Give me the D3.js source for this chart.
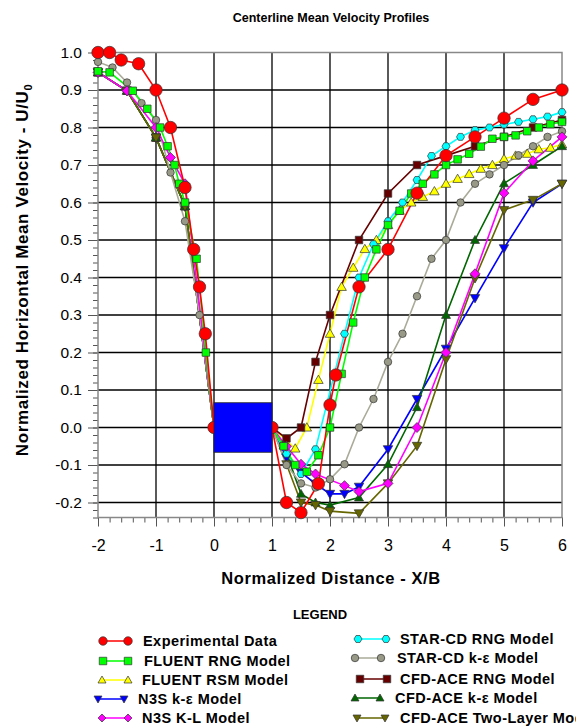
<!DOCTYPE html>
<html>
<head>
<meta charset="utf-8">
<script src="https://cdn.jsdelivr.net/npm/d3@7"></script>
<style>
  body { margin: 0; background: #fff; }
  svg { display: block; font-family: "Liberation Sans", Arial, sans-serif; }
</style>
</head>
<body>
<svg id="chart" width="576" height="727"></svg>
<script>
// data, [x/B, U/U0]
const experimental = [[-2,1.0],[-1.8,1.0],[-1.6,0.98],[-1.3,0.97],[-1,0.9],[-0.75,0.8],[-0.5,0.64],[-0.35,0.475],[-0.25,0.375],[-0.15,0.25],[0,0],[1,0],[1.25,-0.2],[1.5,-0.227],[1.8,-0.15],[2,0.06],[2.1,0.14],[2.5,0.375],[3,0.475],[3.5,0.625],[4,0.725],[4.5,0.775],[5,0.825],[5.5,0.875],[6,0.9]];
const fluentRng = [[-2,0.95],[-1.8,0.947],[-1.4,0.898],[-1.15,0.85],[-0.93,0.8],[-0.8,0.75],[-0.68,0.7],[-0.6,0.65],[-0.5,0.6],[-0.3,0.45],[-0.14,0.2],[0,0],[1,0],[1.2,-0.05],[1.4,-0.1],[1.6,-0.118],[1.8,-0.074],[2,0],[2.2,0.143],[2.4,0.28],[2.6,0.4],[2.8,0.475],[3,0.54],[3.2,0.578],[3.4,0.624],[3.6,0.65],[3.8,0.675],[4,0.7],[4.2,0.715],[4.4,0.73],[4.6,0.749],[4.8,0.77],[5,0.775],[5.2,0.779],[5.4,0.79],[5.6,0.8],[5.8,0.809],[6,0.815]];
const fluentRsm = [[-2,0.947],[-1.5,0.898],[-1,0.773],[-0.5,0.59],[0,0],[1,0],[1.4,-0.056],[1.6,0],[1.8,0.127],[2,0.25],[2.2,0.375],[2.4,0.426],[2.6,0.476],[2.8,0.5],[3,0.54],[3.2,0.578],[3.4,0.6],[3.6,0.615],[3.8,0.63],[4,0.65],[4.2,0.663],[4.4,0.676],[4.6,0.69],[4.8,0.7],[5,0.716],[5.2,0.725],[5.4,0.73],[5.6,0.742],[5.8,0.746],[6,0.755]];
const n3sKe = [[-2,0.947],[-1.5,0.898],[-1,0.773],[-0.5,0.59],[0,0],[1,0],[1.25,-0.08],[1.5,-0.12],[1.75,-0.15],[2,-0.177],[2.25,-0.177],[2.5,-0.158],[3,-0.058],[3.5,0.076],[4,0.21],[4.5,0.345],[5,0.478],[5.5,0.6],[6,0.65]];
const n3sKl = [[-2,0.947],[-1.5,0.898],[-1,0.8],[-0.75,0.72],[-0.5,0.65],[0,0],[1,0],[1.25,-0.05],[1.5,-0.098],[1.75,-0.124],[2.25,-0.155],[2.5,-0.171],[3,-0.149],[3.5,0],[4,0.2],[4.5,0.41],[5,0.625],[5.5,0.711],[6,0.775]];
const starRng = [[-2,0.947],[-1.5,0.898],[-1,0.773],[-0.5,0.59],[0,0],[1,0],[1.25,-0.07],[1.5,-0.124],[1.75,-0.058],[2.25,0.25],[2.5,0.4],[2.75,0.489],[3,0.55],[3.25,0.6],[3.5,0.66],[3.75,0.724],[4,0.75],[4.25,0.775],[4.5,0.793],[4.75,0.8],[5,0.808],[5.25,0.815],[5.5,0.822],[5.75,0.829],[6,0.841]];
const starKe = [[-2,0.975],[-1.75,0.96],[-1.5,0.92],[-1.25,0.865],[-1,0.82],[-0.75,0.68],[-0.5,0.55],[-0.25,0.3],[0,0],[1,0],[1.25,-0.1],[1.5,-0.149],[1.75,-0.16],[2,-0.138],[2.25,-0.098],[2.5,0],[2.75,0.076],[3,0.175],[3.25,0.25],[3.5,0.35],[3.75,0.45],[4,0.5],[4.25,0.6],[4.5,0.65],[4.75,0.675],[5,0.7],[5.25,0.726],[5.5,0.75],[5.75,0.775],[6,0.79]];
const aceRng = [[-2,0.947],[-1.5,0.898],[-1,0.773],[-0.5,0.59],[0,0],[1,0],[1.25,-0.029],[1.5,0],[1.75,0.175],[2,0.3],[2.5,0.5],[3,0.624],[3.5,0.7],[4,0.725],[4.5,0.75],[5,0.775],[5.5,0.8],[6,0.82]];
const aceKe = [[-2,0.947],[-1.5,0.898],[-1,0.773],[-0.5,0.59],[0,0],[1,0],[1.2,-0.047],[1.5,-0.177],[1.75,-0.2],[2,-0.207],[2.5,-0.187],[3,-0.098],[3.5,0.054],[4,0.3],[4.5,0.5],[5,0.651],[5.5,0.7],[6,0.75]];
const aceTwoLayer = [[-2,0.947],[-1.5,0.898],[-1,0.773],[-0.5,0.59],[0,0],[1,0],[1.25,-0.098],[1.5,-0.2],[1.75,-0.207],[2,-0.223],[2.5,-0.229],[3,-0.149],[3.5,-0.049],[4,0.182],[4.5,0.398],[5,0.58],[5.5,0.607],[6,0.65]];

const xTicks = [-2, -1, 0, 1, 2, 3, 4, 5, 6];
const yTicks = [-0.2, -0.1, 0.0, 0.1, 0.2, 0.3, 0.4, 0.5, 0.6, 0.7, 0.8, 0.9, 1.0];
// the obstacle block drawn between x/B = 0 and 1
const block = { x0: 0, x1: 1, y0: -0.066, y1: 0.066 };

const series = [
  { name: "Experimental Data",        data: experimental, shape: "circle",  size: 12.4, fill: "#ff0000", line: "#ff0000", col: 0, row: 0 },
  { name: "FLUENT RNG Model",         data: fluentRng,    shape: "square",  size: 7.5,  fill: "#00ff00", line: "#00ff00", col: 0, row: 1 },
  { name: "FLUENT RSM Model",         data: fluentRsm,    shape: "tri",     size: 9.5,  fill: "#ffff00", line: "#ffff00", col: 0, row: 2 },
  { name: "N3S k-\u03b5 Model",       data: n3sKe,        shape: "triDown", size: 9.5,  fill: "#0000ff", line: "#0000ff", col: 0, row: 3 },
  { name: "N3S K-L Model",            data: n3sKl,        shape: "diamond", size: 10,   fill: "#ff00ff", line: "#ff00ff", col: 0, row: 4 },
  { name: "STAR-CD RNG Model",        data: starRng,      shape: "hex",     size: 8,    fill: "#00ffff", line: "#00ffff", col: 1, row: 0 },
  { name: "STAR-CD k-\u03b5 Model",   data: starKe,       shape: "circle",  size: 7.5,  fill: "#999988", line: "#aaaa99", col: 1, row: 1 },
  { name: "CFD-ACE RNG Model",        data: aceRng,       shape: "square",  size: 7.5,  fill: "#660000", line: "#660000", col: 1, row: 2 },
  { name: "CFD-ACE k-\u03b5 Model",   data: aceKe,        shape: "tri",     size: 9,    fill: "#006600", line: "#006600", col: 1, row: 3 },
  { name: "CFD-ACE Two-Layer Model",  data: aceTwoLayer,  shape: "triDown", size: 9.5,  fill: "#666600", line: "#666600", col: 1, row: 4 }
];
// which series go on top (red last)
const drawOrder = [3, 2, 5, 7, 8, 9, 6, 4, 1, 0];

const svg = d3.select("#chart");
svg.append("rect").attr("width", 576).attr("height", 727).attr("fill", "#fff");

const x = d3.scaleLinear().domain([-2, 6]).range([98, 562]);
const y = d3.scaleLinear().domain([-0.24, 1.0]).range([517.5, 52.5]);

// marker shapes, s = rough width in px
function marker(shape, s) {
  const h = s / 2;
  if (shape === "circle") return d3.symbol(d3.symbolCircle, Math.PI * h * h)();
  if (shape === "square") return `M${-h},${-h}H${h}V${h}H${-h}Z`;
  if (shape === "tri") return `M0,${-h}L${h},${h * 0.75}L${-h},${h * 0.75}Z`;
  if (shape === "triDown") return `M0,${h}L${h},${-h * 0.75}L${-h},${-h * 0.75}Z`;
  if (shape === "diamond") return `M0,${-h}L${h},0L0,${h}L${-h},0Z`;
  if (shape === "hex") {
    const pts = d3.range(6).map(i => [h * Math.cos(i * Math.PI / 3), h * Math.sin(i * Math.PI / 3)]);
    return "M" + pts.join("L") + "Z";
  }
}

// grid
const grid = svg.append("g");
grid.selectAll(".gx").data(xTicks.slice(1, -1)).join("line")
  .attr("x1", d => x(d)).attr("x2", d => x(d))
  .attr("y1", y(1.0)).attr("y2", y(-0.24))
  .attr("stroke", "#000").attr("stroke-width", 1.3);
grid.selectAll(".gy").data(yTicks.filter(v => v < 1)).join("line")
  .attr("x1", x(-2)).attr("x2", x(6))
  .attr("y1", d => y(d)).attr("y2", d => y(d))
  .attr("stroke", "#000").attr("stroke-width", 1.5);

// plain hyphen for negatives, like the original
const hyphen = f => d => f(d).replace("\u2212", "-");

// axes with minor ticks
const xAxis = svg.append("g").attr("transform", `translate(0,${y(-0.24)})`);
xAxis.call(d3.axisBottom(x).tickValues(d3.range(-2, 6.01, 0.2)).tickSize(5).tickFormat(""));
xAxis.append("g").call(d3.axisBottom(x).tickValues(xTicks).tickSize(9).tickPadding(13)
  .tickFormat(hyphen(d3.format("d"))));
xAxis.selectAll(".domain").remove();
xAxis.selectAll("line").attr("stroke", "#555");
xAxis.selectAll("text").attr("font-size", 16).attr("fill", "#000")
  .attr("font-family", "Liberation Sans, Arial, sans-serif");

const yAxis = svg.append("g").attr("transform", `translate(${x(-2)},0)`);
yAxis.call(d3.axisLeft(y).tickValues(d3.range(-0.24, 1.001, 0.02)).tickSize(5).tickFormat(""));
yAxis.append("g").call(d3.axisLeft(y).tickValues(yTicks).tickSize(10).tickPadding(6)
  .tickFormat(hyphen(d3.format(".1f"))));
yAxis.selectAll(".domain").remove();
yAxis.selectAll("line").attr("stroke", "#555");
yAxis.selectAll("text").attr("font-size", 15.5).attr("fill", "#000")
  .attr("font-family", "Liberation Sans, Arial, sans-serif");

// frame
svg.append("rect")
  .attr("x", x(-2)).attr("y", y(1.0))
  .attr("width", x(6) - x(-2)).attr("height", y(-0.24) - y(1.0))
  .attr("fill", "none").attr("stroke", "#888").attr("stroke-width", 1.5);

// lines then markers
const lineGen = d3.line().x(d => x(d[0])).y(d => y(d[1]));
const plot = svg.append("g");
drawOrder.forEach(i => {
  const s = series[i];
  plot.append("path").datum(s.data)
    .attr("d", lineGen)
    .attr("fill", "none").attr("stroke", s.line).attr("stroke-width", 1.6);
});
drawOrder.forEach(i => {
  const s = series[i];
  plot.append("g").selectAll("path").data(s.data).join("path")
    .attr("transform", d => `translate(${x(d[0])},${y(d[1])})`)
    .attr("d", marker(s.shape, s.size))
    .attr("fill", s.fill).attr("stroke", "#333").attr("stroke-width", 0.7);
});

// block
svg.append("rect")
  .attr("x", x(block.x0)).attr("y", y(block.y1))
  .attr("width", x(block.x1) - x(block.x0)).attr("height", y(block.y0) - y(block.y1))
  .attr("fill", "#0000ff").attr("stroke", "#222").attr("stroke-width", 0.8);

// titles
svg.append("text").attr("x", 331).attr("y", 22).attr("text-anchor", "middle")
  .attr("font-size", 12.5).attr("font-weight", "bold").text("Centerline Mean Velocity Profiles");
svg.append("text").attr("x", 331).attr("y", 584).attr("text-anchor", "middle")
  .attr("font-size", 16.5).attr("font-weight", "bold").attr("letter-spacing", 0.6)
  .text("Normalized Distance - X/B");
const yt = svg.append("text").attr("transform", "translate(28,270) rotate(-90)")
  .attr("text-anchor", "middle").attr("font-size", 17).attr("font-weight", "bold")
  .attr("letter-spacing", 0.6);
yt.append("tspan").text("Normalized Horizontal Mean Velocity - U/U");
yt.append("tspan").attr("font-size", 11).attr("dy", 4).text("0");

// legend
svg.append("text").attr("x", 320).attr("y", 619).attr("text-anchor", "middle")
  .attr("font-size", 13).attr("font-weight", "bold").text("LEGEND");
const legendRows = [[641, 661, 680, 699, 718], [639, 658, 679, 698, 718]];
const legendMarks = [
  [[103, 128, 143], [103, 128, 144], [102, 128, 142], [98, 124, 138], [102, 128, 142]],
  [[358, 386, 400], [355, 381, 397], [360, 387, 400], [355, 380, 395], [357, 385, 400]]
];
const legend = svg.append("g");
series.forEach(s => {
  const ly = legendRows[s.col][s.row];
  const [m1, m2, tx] = legendMarks[s.col][s.row];
  const g = legend.append("g");
  g.append("line").attr("x1", m1).attr("x2", m2).attr("y1", ly).attr("y2", ly)
    .attr("stroke", s.line).attr("stroke-width", 1.5);
  const ms = s.shape === "circle" && s.size > 10 ? 8.5 : Math.min(s.size, 8);
  [m1, m2].forEach(mx => {
    g.append("path").attr("transform", `translate(${mx},${ly})`)
      .attr("d", marker(s.shape, ms))
      .attr("fill", s.fill).attr("stroke", "#333").attr("stroke-width", 0.7);
  });
  g.append("text").attr("x", tx).attr("y", ly).attr("dy", "0.36em")
    .attr("font-size", 14.5).attr("font-weight", "bold").attr("letter-spacing", 0.45)
    .text(s.name);
});
</script>
</body>
</html>
